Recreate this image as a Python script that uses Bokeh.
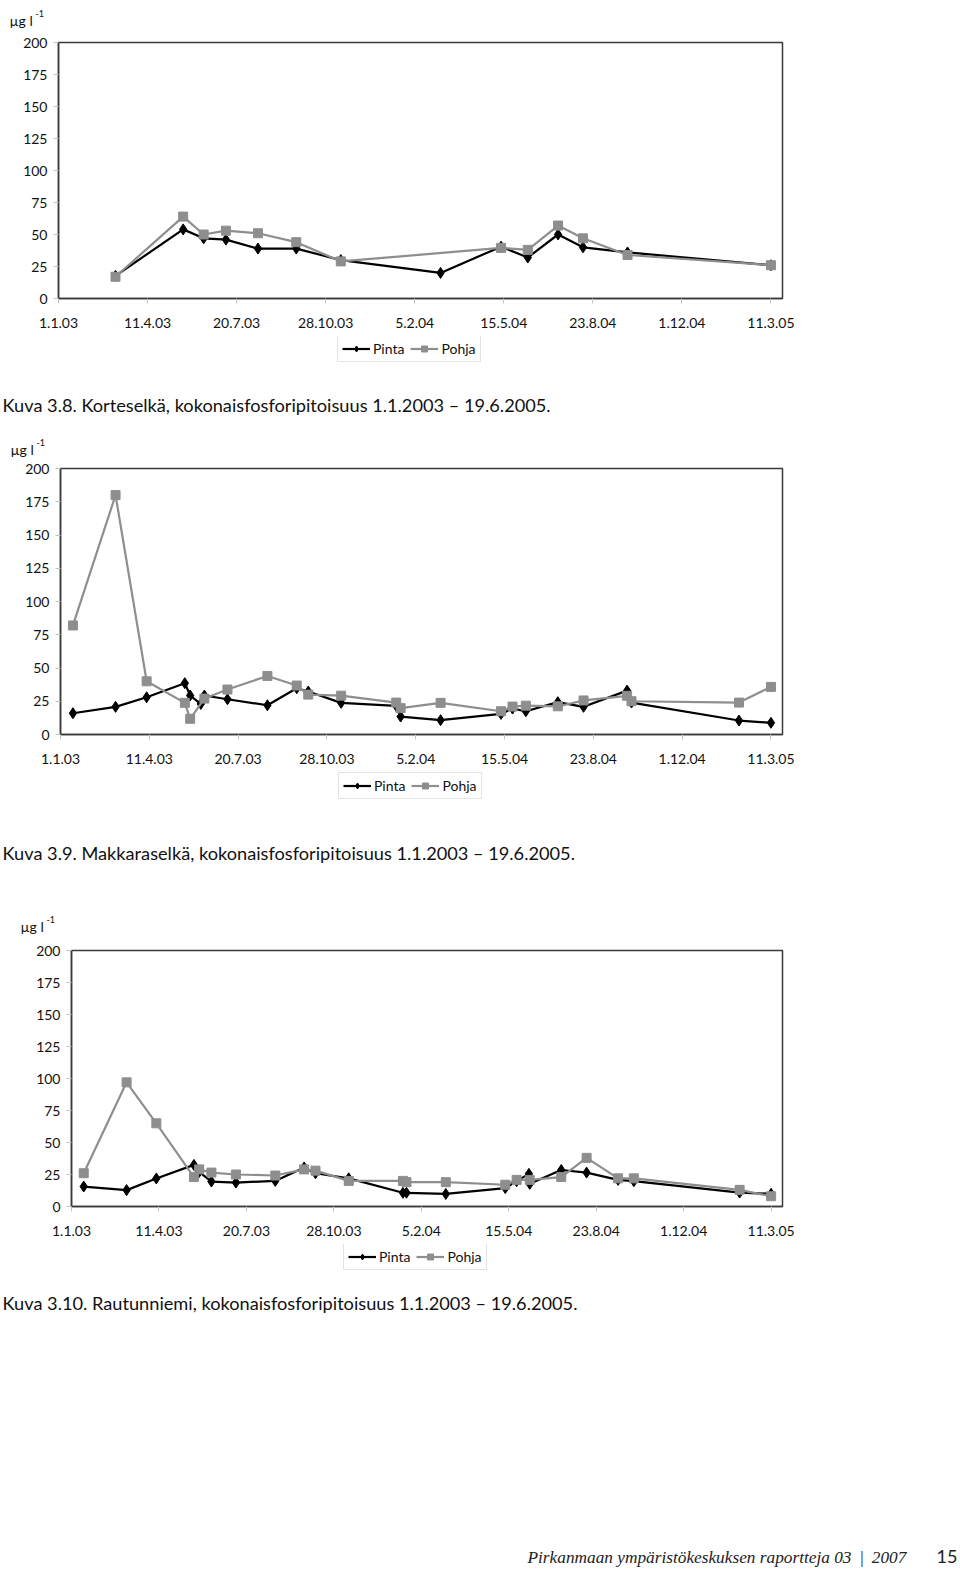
import numpy as np
from bokeh.plotting import figure
from bokeh.models import Range1d, FixedTicker, Legend, LegendItem
from bokeh.core.properties import value
from bokeh.embed import file_html
from bokeh.resources import INLINE

START = "2003-01-01"
TICK_LABELS = ["1.1.03", "11.4.03", "20.7.03", "28.10.03", "5.2.04",
               "15.5.04", "23.8.04", "1.12.04", "11.3.05"]
TICK_DATES = ["2003-01-01", "2003-04-11", "2003-07-20", "2003-10-28", "2004-02-05",
              "2004-05-15", "2004-08-23", "2004-12-01", "2005-03-11"]
Y_TICKS = [0, 25, 50, 75, 100, 125, 150, 175, 200]

# Kuva 3.8 Korteselkä
kort_pinta_dates = ["2003-03-06", "2003-05-21", "2003-06-13", "2003-07-08", "2003-08-13",
                    "2003-09-25", "2003-11-14", "2004-03-05", "2004-05-12", "2004-06-11",
                    "2004-07-15", "2004-08-12", "2004-10-01", "2005-03-11"]
kort_pinta = [17.7, 54, 47, 46, 39, 39, 30, 20, 40.5, 32, 50, 40, 36, 26]
kort_pohja_dates = ["2003-03-06", "2003-05-21", "2003-06-13", "2003-07-08", "2003-08-13",
                    "2003-09-25", "2003-11-14", "2004-05-12", "2004-06-11",
                    "2004-07-15", "2004-08-12", "2004-10-01", "2005-03-11"]
kort_pohja = [17, 64, 50, 53, 51, 44, 29, 39.5, 38, 57, 47, 34, 26]

# Kuva 3.9 Makkaraselkä
makk_pinta_dates = ["2003-01-15", "2003-03-04", "2003-04-08", "2003-05-21", "2003-05-27",
                    "2003-06-08", "2003-06-12", "2003-07-08", "2003-08-22", "2003-09-24",
                    "2003-10-07", "2003-11-13", "2004-01-14", "2004-01-19", "2004-03-04",
                    "2004-05-11", "2004-05-24", "2004-06-08", "2004-07-14", "2004-08-12",
                    "2004-09-30", "2004-10-05", "2005-02-03", "2005-03-11"]
makk_pinta = [16, 20.8, 28, 38.6, 29.3, 23, 29.3, 26.5, 22, 34.8, 32.3, 23.8, 21.5, 13.5,
              10.8, 15.5, 19.5, 17.5, 24.3, 20.8, 33, 24, 10.5, 8.8]
makk_pohja_dates = ["2003-01-15", "2003-03-04", "2003-04-08", "2003-05-21", "2003-05-27",
                    "2003-06-12", "2003-07-08", "2003-08-22", "2003-09-24", "2003-10-07",
                    "2003-11-13", "2004-01-14", "2004-01-19", "2004-03-04", "2004-05-11",
                    "2004-05-24", "2004-06-08", "2004-07-14", "2004-08-12", "2004-09-30",
                    "2004-10-05", "2005-02-03", "2005-03-11"]
makk_pohja = [82, 180, 40, 23.8, 11.8, 27, 33.8, 44, 36.8, 30, 29.2, 24, 19.8, 23.8, 17.5,
              21, 21.7, 21.2, 25.6, 29.1, 25, 24, 35.8]

# Kuva 3.10 Rautunniemi
raut_pinta_dates = ["2003-01-15", "2003-03-05", "2003-04-08", "2003-05-21", "2003-05-27",
                    "2003-06-10", "2003-07-08", "2003-08-22", "2003-09-24", "2003-10-07",
                    "2003-11-14", "2004-01-15", "2004-01-19", "2004-03-04", "2004-05-11",
                    "2004-05-24", "2004-06-07", "2004-06-08", "2004-07-14", "2004-08-12",
                    "2004-09-17", "2004-10-05", "2005-02-03", "2005-03-11"]
raut_pinta = [15.6, 12.8, 21.9, 32.5, 27, 19.5, 18.7, 20, 30.5, 26, 22, 10.7, 10.7, 9.8,
              14.4, 19.8, 25.5, 17.7, 28.5, 26.5, 20.8, 19.8, 10.9, 9.9]
raut_pohja_dates = ["2003-01-15", "2003-03-05", "2003-04-08", "2003-05-21", "2003-05-27",
                    "2003-06-10", "2003-07-08", "2003-08-22", "2003-09-24", "2003-10-07",
                    "2003-11-14", "2004-01-15", "2004-01-19", "2004-03-04", "2004-05-11",
                    "2004-05-24", "2004-06-08", "2004-07-14", "2004-08-12", "2004-09-17",
                    "2004-10-05", "2005-02-03", "2005-03-11"]
raut_pohja = [26, 97, 65, 23, 29, 26.5, 25, 24.2, 29, 28, 20, 20, 19, 19, 17, 20.8, 20.8,
              23, 38, 22, 22, 13, 8]

SERIES = ["Pinta", "Pohja"]
CAPTIONS = [
    "Kuva 3.8. Korteselkä,  kokonaisfosforipitoisuus 1.1.2003 \u2013 19.6.2005.",
    "Kuva 3.9. Makkaraselkä,  kokonaisfosforipitoisuus 1.1.2003 \u2013 19.6.2005.",
    "Kuva 3.10. Rautunniemi,  kokonaisfosforipitoisuus 1.1.2003 \u2013 19.6.2005.",
]
UNIT = "µg l"
UNIT_EXP = "-1"
FOOTER = "Pirkanmaan ympäristökeskuksen raportteja  03 \u2009|\u2009 2007"
PAGE_NO = "15"

FONT = "Lato"
GRAY = "#8e8e8e"
W = 960
STYLE = [dict(line_color="black", marker="diamond", size=11),
         dict(line_color=GRAY, marker="square", size=9)]


def to_days(dates):
    d = np.array(dates, dtype="datetime64[D]") - np.datetime64(START)
    return d.astype(int).tolist()


def text_fig(height):
    p = figure(width=W, height=height, output_backend="svg", toolbar_location=None,
               x_range=Range1d(0, W), y_range=Range1d(height, 0),
               x_axis_type=None, y_axis_type=None,
               min_border_left=0, min_border_right=0,
               min_border_top=0, min_border_bottom=0)
    p.outline_line_color = None
    p.grid.visible = False
    p.background_fill_color = "white"
    p.border_fill_color = "white"
    return p


def put_text(p, x, y, txt, size, font=FONT, style="normal", align="left",
             baseline="middle", color="#111111"):
    p.text(x=[x], y=[y], text=[txt], text_font=value(font), text_font_size=size,
           text_font_style=style, text_align=align, text_baseline=baseline,
           text_color=color)


def put_unit(p, x, y):
    put_text(p, x, y, UNIT, "14px", baseline="alphabetic")
    put_text(p, x + 26, y - 7, UNIT_EXP, "9px", baseline="alphabetic")


def series_renderers(p, xs, ys, st):
    ln = p.line(xs, ys, line_color=st["line_color"], line_width=2.2)
    sc = p.scatter(xs, ys, marker=st["marker"], size=st["size"],
                   fill_color=st["line_color"], line_color=st["line_color"])
    return ln, sc


def put_legend(p, fig_h, box_left, box_bottom):
    # legend key renderers: points placed outside the visible range
    items = []
    for name, st in zip(SERIES, STYLE):
        ln, sc = series_renderers(p, [-500, -400], [-500, -500], st)
        items.append(LegendItem(label=name, renderers=[ln, sc]))
    legend = Legend(items=items, location=(box_left, fig_h - box_bottom),
                    orientation="horizontal",
                    glyph_width=28, glyph_height=15, label_height=15,
                    label_standoff=3, spacing=6, padding=4, margin=0,
                    border_line_color="#c8c8c8", border_line_width=1,
                    label_text_font=FONT, label_text_font_size="14px",
                    label_text_color="#111111", background_fill_alpha=1.0)
    p.add_layout(legend)


def make_chart(pd_, pv, qd, qv, height, left, top, bottom):
    right = W - 782
    p = figure(width=W, height=height, output_backend="svg", toolbar_location=None,
               x_range=Range1d(0, 813), y_range=Range1d(0, 200),
               min_border_left=left, min_border_right=right,
               min_border_top=top, min_border_bottom=bottom)
    p.background_fill_color = "white"
    p.border_fill_color = "white"
    p.outline_line_color = "#3a3a3a"
    p.outline_line_width = 1.5
    p.grid.visible = False
    tick_days = to_days(TICK_DATES)
    p.xaxis.ticker = FixedTicker(ticks=tick_days)
    p.xaxis.major_label_overrides = {d: lab for d, lab in zip(tick_days, TICK_LABELS)}
    p.yaxis.ticker = FixedTicker(ticks=Y_TICKS)
    for ax in (p.xaxis[0], p.yaxis[0]):
        ax.axis_line_color = "#3a3a3a"
        ax.axis_line_width = 1.5
        ax.major_tick_out = 5
        ax.major_tick_in = 0
        ax.major_tick_line_color = "#c4c4c4"
        ax.minor_tick_line_color = None
        ax.major_label_text_font = FONT
        ax.major_label_text_font_size = "14px"
        ax.major_label_text_color = "#111111"
    p.xaxis.major_label_standoff = 14
    p.yaxis.major_label_standoff = 6

    series_renderers(p, to_days(pd_), pv, STYLE[0])
    series_renderers(p, to_days(qd), qv, STYLE[1])
    return p


# bands, top to bottom (page px)
t0 = text_fig(30)
put_unit(t0, 9, 20)

c1 = make_chart(kort_pinta_dates, kort_pinta, kort_pohja_dates, kort_pohja,
                306, 58, 12, 38)

t1 = text_fig(123)
put_legend(t1, 123, 337, 26)
put_text(t1, 2, 68, CAPTIONS[0], "18.2px")
put_unit(t1, 10, 113)

c2 = make_chart(makk_pinta_dates, makk_pinta, makk_pohja_dates, makk_pohja,
                313, 60, 9, 38)

t2 = text_fig(168)
put_legend(t2, 168, 338, 27)
put_text(t2, 2, 80, CAPTIONS[1], "18.2px")
put_unit(t2, 20, 154)

c3 = make_chart(raut_pinta_dates, raut_pinta, raut_pohja_dates, raut_pohja,
                304, 71, 10, 38)

t3 = text_fig(327)
put_legend(t3, 327, 343, 26)
put_text(t3, 2, 58, CAPTIONS[2], "18.2px")
put_text(t3, 527, 313, FOOTER, "17.3px", font="Liberation Serif", style="italic",
         color="#222222")
put_text(t3, 957, 312, PAGE_NO, "18px", align="right", color="#222222")

open("out.html", "w").write(file_html([t0, c1, t1, c2, t2, c3, t3], INLINE))
